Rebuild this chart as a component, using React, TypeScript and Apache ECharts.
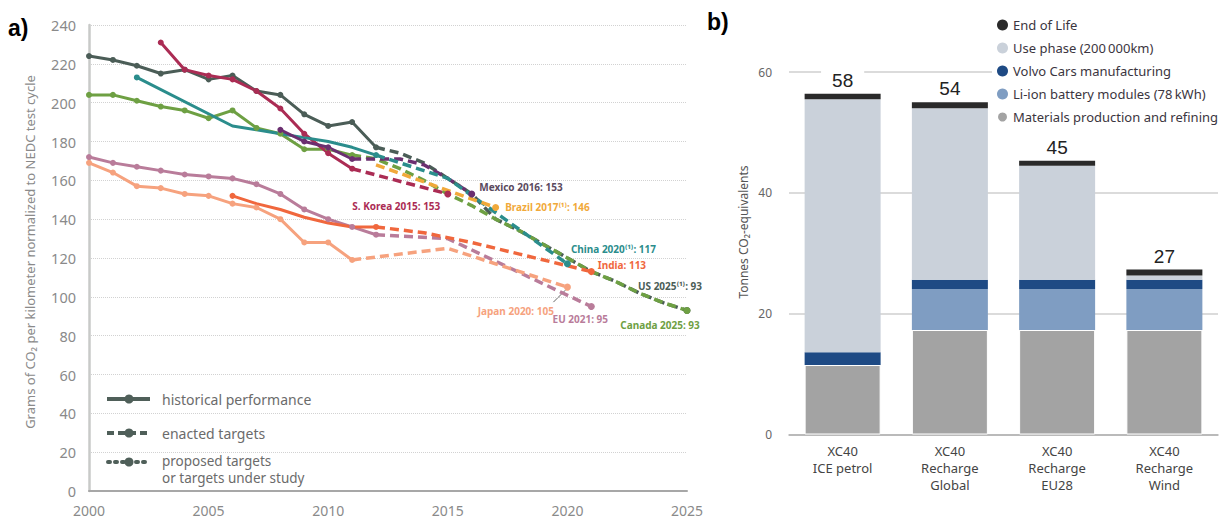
import React, { useEffect, useRef } from "react";
import * as echarts from "echarts";

// ---------- Panel a: CO2 per km ----------
const usHist: [number, number][] = [[2000,224],[2001,222],[2002,219],[2003,215],[2004,217],[2005,212],[2006,214],[2007,206],[2008,204],[2009,194],[2010,188],[2011,190],[2012,177]];
const usTarget: [number, number][] = [[2012,177],[2013,174],[2014,169],[2015,161],[2016,153],[2017,140],[2018,134],[2019,127],[2020,120],[2021,113],[2022,108],[2023,102],[2024,97],[2025,93]];
const canadaHist: [number, number][] = [[2000,204],[2001,204],[2002,201],[2003,198],[2004,196],[2005,192],[2006,196],[2007,187],[2008,184],[2009,176],[2010,176],[2011,173]];
const canadaTarget: [number, number][] = [[2011,173],[2012,171],[2013,166],[2014,160],[2015,153],[2016,147],[2017,140],[2018,134],[2019,127],[2020,120],[2021,113],[2022,108],[2023,102],[2024,97],[2025,93]];
const koreaHist: [number, number][] = [[2003,231],[2004,217],[2005,214],[2006,212],[2007,206],[2008,197],[2009,184],[2010,174],[2011,166]];
const koreaTarget: [number, number][] = [[2011,166],[2015,153]];
const mexicoHist: [number, number][] = [[2008,186],[2009,180],[2010,177],[2011,171]];
const mexicoTarget: [number, number][] = [[2011,171],[2012,171],[2013,171],[2014,168],[2015,161],[2016,153]];
const chinaHist: [number, number][] = [[2002,213],[2006,188],[2007,186],[2008,184],[2009,182],[2010,180],[2011,177],[2012,173]];
const chinaTarget: [number, number][] = [[2012,173],[2013,169],[2014,165],[2015,161],[2020,117]];
const brazilTarget: [number, number][] = [[2012,168],[2017,146]];
const euHist: [number, number][] = [[2000,172],[2001,169],[2002,167],[2003,165],[2004,163],[2005,162],[2006,161],[2007,158],[2008,153],[2009,145],[2010,140],[2011,136],[2012,132]];
const euTarget: [number, number][] = [[2012,132],[2015,130],[2021,95]];
const japanHist: [number, number][] = [[2000,169],[2001,164],[2002,157],[2003,156],[2004,153],[2005,152],[2006,148],[2007,146],[2008,140],[2009,128],[2010,128],[2011,119]];
const japanTarget: [number, number][] = [[2011,119],[2015,125],[2020,105]];
const indiaHist: [number, number][] = [[2006,152],[2007,148],[2008,145],[2009,141],[2010,138],[2011,136],[2012,136]];
const indiaTarget: [number, number][] = [[2012,136],[2014,133],[2016,128],[2018,122],[2020,116],[2021,113]];

const yTicksA = { min: 0, max: 240, interval: 20 };
const xTicksA = { min: 2000, max: 2025, interval: 5 };

// ---------- Panel b: Volvo XC40 lifecycle ----------
const carCategories = ["XC40\nICE petrol", "XC40\nRecharge\nGlobal", "XC40\nRecharge\nEU28", "XC40\nRecharge\nWind"];
const materials = [11.5, 17.3, 17.3, 17.3];
const liIon = [0, 6.8, 6.8, 6.8];
const volvoMfg = [2.1, 1.5, 1.5, 1.5];
const usePhase = [41.9, 28.4, 18.9, 0.7];
const endOfLife = [0.9, 1.0, 0.8, 1.0];
const totals = [58, 54, 45, 27];

const C = {
  us: "#4b5d57",
  canada: "#6ea043",
  korea: "#ab2c54",
  mexico: "#6b2f70",
  china: "#2b8d8c",
  brazil: "#f1a93a",
  eu: "#b97c9a",
  japan: "#f6a27e",
  india: "#f0673d",
};

const FONT = "'Noto Sans', 'DejaVu Sans', sans-serif";

type LabelSpec = { text: string; position: any; offset: [number, number]; color: string };

function histSeries(name: string, data: [number, number][], color: string, symbolAll = true) {
  const last = data.length - 1;
  return {
    name,
    type: "line",
    xAxisIndex: 0,
    yAxisIndex: 0,
    data,
    symbol: "circle",
    symbolSize: symbolAll ? 6 : (_v: any, p: any) => (p.dataIndex === 0 || p.dataIndex === last ? 6 : 0),
    lineStyle: { color, width: 3 },
    itemStyle: { color },
    z: 3,
  };
}

function targetSeries(name: string, data: [number, number][], color: string, label?: LabelSpec, z = 2) {
  const last = data.length - 1;
  return {
    name,
    type: "line",
    xAxisIndex: 0,
    yAxisIndex: 0,
    data: data.map((d, i) =>
      i === last && label
        ? {
            value: d,
            label: {
              show: true,
              formatter: label.text,
              position: label.position,
              offset: label.offset,
              color: label.color,
              fontSize: 10,
              fontWeight: "bold",
              fontFamily: FONT,
              distance: 4,
            },
          }
        : { value: d }
    ),
    symbol: "circle",
    symbolSize: (_v: any, p: any) => (p.dataIndex === last ? 7 : 0),
    lineStyle: { color, width: 3.5, type: [9, 5] },
    itemStyle: { color },
    z,
  };
}

export default function App() {
  const ref = useRef<HTMLDivElement>(null);

  useEffect(() => {
    if (!ref.current) return;
    const chart = echarts.init(ref.current, undefined, { renderer: "svg" });

    const barBase = {
      type: "bar",
      stack: "car",
      xAxisIndex: 1,
      yAxisIndex: 1,
      barWidth: 76,
    };

    const option: any = {
      animation: false,
      backgroundColor: "#ffffff",
      grid: [
        { left: 89, top: 25, width: 598, height: 466 },
        { left: 789, top: 72, width: 429, height: 362.5 },
      ],
      legend: {
        data: ["End of Life", "Use phase (200\u2009000km)", "Volvo Cars manufacturing", "Li-ion battery modules (78\u2009kWh)", "Materials production and refining"],
        orient: "vertical",
        left: 992,
        top: 16,
        icon: "circle",
        itemWidth: 11,
        itemHeight: 11,
        itemGap: 9,
        padding: [2, 4, 2, 4],
        backgroundColor: "#ffffff",
        selectedMode: false,
        textStyle: { color: "#3b3540", fontSize: 13, fontFamily: FONT, lineHeight: 14 },
      },
      xAxis: [
        {
          gridIndex: 0,
          type: "value",
          ...xTicksA,
          axisLine: { show: true, onZero: false, lineStyle: { color: "#a7a7a7", width: 2 } },
          axisTick: { show: false },
          splitLine: { show: false },
          axisLabel: { color: "#8a8a8a", fontSize: 14, margin: 12, fontFamily: FONT, formatter: (v: number) => String(v) },
        },
        {
          gridIndex: 1,
          type: "category",
          data: carCategories,
          axisLine: { show: true, lineStyle: { color: "#b0b0b0", width: 1.5 } },
          axisTick: { show: false },
          axisLabel: { color: "#444", fontSize: 13, lineHeight: 17, margin: 8, fontFamily: FONT },
        },
      ],
      yAxis: [
        {
          gridIndex: 0,
          type: "value",
          ...yTicksA,
          axisLine: { show: true, lineStyle: { color: "#c8cac8", width: 2.5 } },
          axisTick: { show: false },
          splitLine: { show: true, lineStyle: { type: "dotted", color: "#d2d2d2", width: 1 } },
          axisLabel: { color: "#8a8a8a", fontSize: 14.5, margin: 13, fontFamily: FONT },
        },
        {
          gridIndex: 1,
          type: "value",
          min: 0,
          max: 60,
          interval: 20,
          axisLine: { show: false },
          axisTick: { show: false },
          splitLine: { show: true, lineStyle: { color: "#cfcfcf", width: 1.5 } },
          axisLabel: { color: "#666", fontSize: 12, margin: 17, fontFamily: FONT },
        },
      ],
      series: [
        // targets (dashed), drawn below historic
        targetSeries("US target", usTarget, C.us, { text: "US 2025\u207D\u00B9\u207E: 93", position: "top", offset: [-17, -12], color: C.us }, 2),
        targetSeries("Canada target", canadaTarget, C.canada, { text: "Canada 2025: 93", position: "bottom", offset: [-27, 2], color: C.canada }, 2),
        targetSeries("Korea target", koreaTarget, C.korea, { text: "S. Korea 2015: 153", position: "left", offset: [0, 12], color: C.korea }, 2),
        targetSeries("Mexico target", mexicoTarget, C.mexico, { text: "Mexico 2016: 153", position: "right", offset: [0, -7], color: "#5b4a5e" }, 2),
        targetSeries("China target", chinaTarget, C.china, { text: "China 2020\u207D\u00B9\u207E: 117", position: "right", offset: [-4, -15], color: C.china }, 2),
        targetSeries("Brazil target", brazilTarget, C.brazil, { text: "Brazil 2017\u207D\u00B9\u207E: 146", position: "right", offset: [2, -1], color: C.brazil }, 2),
        targetSeries("EU target", euTarget, C.eu, { text: "EU 2021: 95", position: "bottom", offset: [-11, 0], color: C.eu }, 2),
        targetSeries("Japan target", japanTarget, C.japan, { text: "Japan 2020: 105", position: "left", offset: [-6, 24], color: C.japan }, 2),
        targetSeries("India target", indiaTarget, C.india, { text: "India: 113", position: "right", offset: [-1, -7], color: C.india }, 2),
        // historic (solid)
        histSeries("US", usHist, C.us),
        histSeries("Canada", canadaHist, C.canada),
        histSeries("S. Korea", koreaHist, C.korea),
        histSeries("China", chinaHist, C.china, false),
        histSeries("Mexico", mexicoHist, C.mexico),
        histSeries("EU", euHist, C.eu),
        histSeries("Japan", japanHist, C.japan),
        histSeries("India", indiaHist, C.india, false),
        // panel b stacked bars
        {
          ...barBase,
          name: "Materials production and refining",
          data: materials,
          itemStyle: { color: "#a3a3a3", borderColor: "#ffffff", borderWidth: 1 },
        },
        { ...barBase, name: "Li-ion battery modules (78\u2009kWh)", data: liIon, itemStyle: { color: "#7f9dc2" } },
        { ...barBase, name: "Volvo Cars manufacturing", data: volvoMfg, itemStyle: { color: "#1e4a84" } },
        { ...barBase, name: "Use phase (200\u2009000km)", data: usePhase, itemStyle: { color: "#cad1da" } },
        {
          ...barBase,
          name: "End of Life",
          data: endOfLife,
          itemStyle: { color: "#2a2a2a" },
          label: {
            show: true,
            position: "top",
            distance: 1,
            formatter: (p: any) => String(totals[p.dataIndex]),
            color: "#222",
            fontSize: 19,
            fontFamily: "'Liberation Sans', Arial, sans-serif",
            backgroundColor: "#ffffff",
            padding: [3, 11],
          },
        },
      ],
      graphic: [
        { type: "text", left: 8, top: 16, style: { text: "a)", font: "bold 23px 'Liberation Sans', Arial, sans-serif", fill: "#000" } },
        { type: "text", left: 707, top: 10, style: { text: "b)", font: "bold 23px 'Liberation Sans', Arial, sans-serif", fill: "#000" } },
        {
          type: "text",
          x: 30,
          y: 252,
          rotation: Math.PI / 2,
          style: {
            text: "Grams of CO\u2082 per kilometer normalized to NEDC test cycle",
            font: `13px ${FONT}`,
            fill: "#8a8a8a",
            align: "center",
            verticalAlign: "middle",
          },
        },
        {
          type: "text",
          x: 743,
          y: 232,
          rotation: Math.PI / 2,
          style: {
            text: "Tonnes CO\u2082-equivalents",
            font: `12px ${FONT}`,
            fill: "#555",
            align: "center",
            verticalAlign: "middle",
          },
        },
        // panel a legend
        { type: "line", shape: { x1: 107, y1: 399, x2: 150, y2: 399 }, style: { stroke: "#4f5f59", lineWidth: 4 } },
        { type: "circle", shape: { cx: 129, cy: 399, r: 4.5 }, style: { fill: "#4f5f59" } },
        { type: "line", shape: { x1: 107, y1: 433, x2: 150, y2: 433 }, style: { stroke: "#4f5f59", lineWidth: 4, lineDash: [7, 4] } },
        { type: "circle", shape: { cx: 129, cy: 433, r: 4.5 }, style: { fill: "#4f5f59" } },
        { type: "line", shape: { x1: 108, y1: 462, x2: 150, y2: 462 }, style: { stroke: "#4f5f59", lineWidth: 4, lineDash: [2, 5], lineCap: "round" } },
        { type: "circle", shape: { cx: 129, cy: 462, r: 4.5 }, style: { fill: "#4f5f59" } },
        { type: "text", x: 162, y: 399, style: { text: "historical performance", font: `14px ${FONT}`, fill: "#6b6b6b", verticalAlign: "middle" } },
        { type: "text", x: 162, y: 433, style: { text: "enacted targets", font: `14px ${FONT}`, fill: "#6b6b6b", verticalAlign: "middle" } },
        { type: "text", x: 162, y: 461, style: { text: "proposed targets", font: `13.5px ${FONT}`, fill: "#6b6b6b", verticalAlign: "middle" } },
        { type: "text", x: 162, y: 478, style: { text: "or targets under study", font: `13.5px ${FONT}`, fill: "#6b6b6b", verticalAlign: "middle" } },
      ],
    };

    chart.setOption(option);

    // Japan leader line anchored to its data point
    const jp = japanTarget[japanTarget.length - 1];
    const p = chart.convertToPixel({ gridIndex: 0 } as any, jp) as number[];
    if (p) {
      const g = (option.graphic as any[]).concat([
        { type: "line", shape: { x1: p[0] - 14, y1: p[1] + 15, x2: p[0] - 2, y2: p[1] + 3 }, style: { stroke: "#666", lineWidth: 1 } },
      ]);
      chart.setOption({ graphic: g });
    }

    return () => chart.dispose();
  }, []);

  return (
    <div
      ref={ref}
      style={{ position: "absolute", left: 0, top: 0, width: 1227, height: 519, background: "#fff" }}
    />
  );
}
